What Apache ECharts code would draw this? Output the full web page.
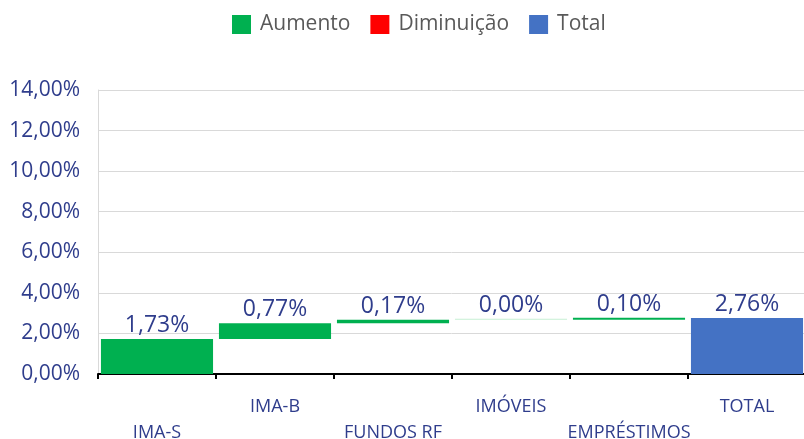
<!DOCTYPE html>
<html>
<head>
<meta charset="utf-8">
<script src="https://cdn.jsdelivr.net/npm/echarts@6/dist/echarts.min.js"></script>
<style>
  html, body { margin: 0; padding: 0; background: #fff; }
  #chart { width: 804px; height: 439px; }
</style>
</head>
<body>
<div id="chart"></div>
<script>
const categories = ['IMA-S', 'IMA-B', 'FUNDOS RF', 'IMÓVEIS', 'EMPRÉSTIMOS', 'TOTAL'];
const increases = [1.73, 0.77, 0.17, 0.00, 0.10, '-'];
const decreases = ['-', '-', '-', '-', '-', '-'];
const totals = ['-', '-', '-', '-', '-', 2.76];

// invisible base for the waterfall steps
let running = 0;
const base = increases.map(v => {
  if (v === '-') return 0;
  const b = running;
  running += v;
  return +b.toFixed(2);
});

const fmt = v => v.toFixed(2).replace('.', ',') + '%';
const textColor = '#2F3D8C';

const chart = echarts.init(document.getElementById('chart'));

const labelOpt = {
  show: true,
  position: 'top',
  distance: 2,
  color: textColor,
  fontSize: 23,
  fontFamily: 'Open Sans',
  formatter: p => fmt(p.value)
};

const option = {
  animation: false,
  legend: {
    top: 9,
    left: 227,
    icon: 'rect',
    itemWidth: 19,
    itemHeight: 19,
    itemGap: 20,
    textStyle: { color: '#595959', fontSize: 21, fontFamily: 'Open Sans', padding: [0, 0, 0, 4] },
    data: ['Aumento', 'Diminuição', 'Total']
  },
  grid: {
    left: 98,
    width: 708,
    top: 90,
    bottom: 65,
    outerBoundsMode: 'none',
    containLabel: false
  },
  xAxis: {
    type: 'category',
    data: categories,
    axisLine: { lineStyle: { color: '#000', width: 2 } },
    axisTick: { show: true, length: 5, lineStyle: { color: '#000', width: 2 } },
    axisLabel: {
      interval: 0,
      margin: 20,
      color: textColor,
      fontSize: 18,
      fontFamily: 'Open Sans',
      lineHeight: 26,
      formatter: (v, i) => (i % 2 === 0 ? ' \n' + v : v + '\n ')
    }
  },
  yAxis: {
    type: 'value',
    min: 0,
    max: 14,
    interval: 2,
    axisLine: { show: true, lineStyle: { color: '#D9D9D9' } },
    axisTick: { show: false },
    splitLine: { lineStyle: { color: '#D9D9D9' } },
    axisLabel: {
      margin: 18,
      color: textColor,
      fontSize: 21,
      fontFamily: 'Open Sans',
      formatter: v => fmt(v)
    }
  },
  series: [
    {
      name: 'base',
      type: 'bar',
      stack: 'w',
      data: base,
      itemStyle: { color: 'transparent' },
      emphasis: { disabled: true },
      barCategoryGap: '5%'
    },
    {
      name: 'Aumento',
      type: 'bar',
      stack: 'w',
      data: increases.map(v => (v === 0 ? { value: v, itemStyle: { color: '#C6EFD3' } } : v)),
      barMinHeight: 1,
      itemStyle: { color: '#00B050' },
      label: labelOpt
    },
    {
      name: 'Diminuição',
      type: 'bar',
      stack: 'w',
      data: decreases,
      itemStyle: { color: '#FF0000' },
      label: labelOpt
    },
    {
      name: 'Total',
      type: 'bar',
      stack: 'w',
      data: totals,
      itemStyle: { color: '#4472C4' },
      label: labelOpt
    }
  ]
};

chart.setOption(option);
</script>
</body>
</html>
